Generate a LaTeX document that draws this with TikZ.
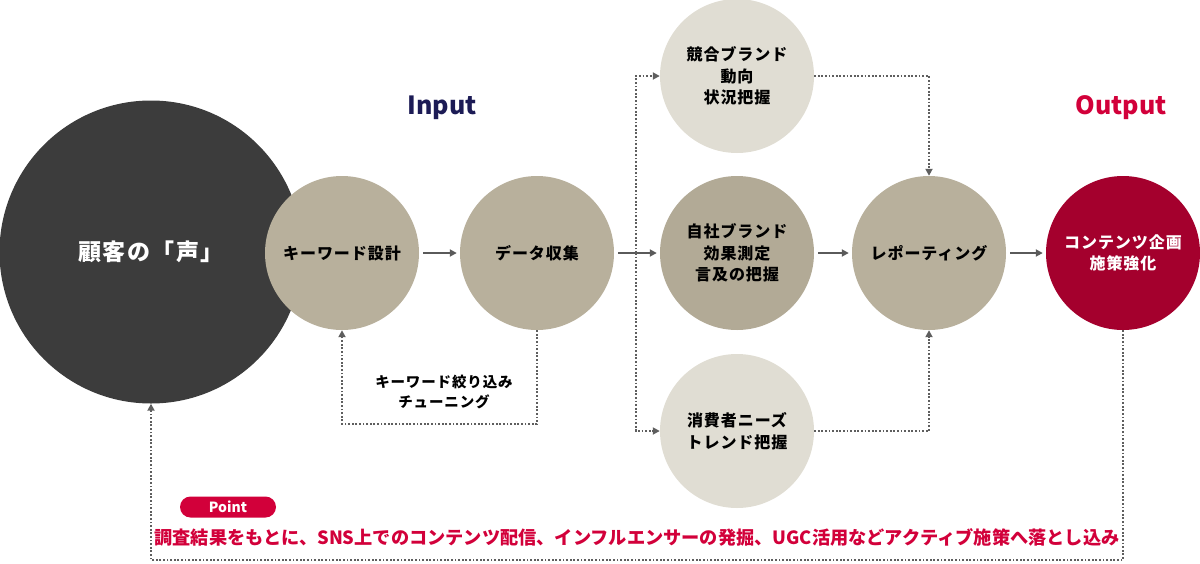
\documentclass[tikz,border=0pt]{standalone}
\usepackage{fontspec}
\setmainfont{Noto Sans CJK JP}
\newfontfamily\jp{Noto Sans CJK JP}[LetterSpace=6]
\usetikzlibrary{arrows.meta}
\definecolor{darkc}{HTML}{3C3C3C}
\definecolor{midc}{HTML}{B8B09C}
\definecolor{midd}{HTML}{B2AA96}
\definecolor{lightc}{HTML}{E0DDD3}
\definecolor{outc}{HTML}{A4002D}
\definecolor{redt}{HTML}{D2003A}
\definecolor{navyt}{HTML}{1C1B55}
\definecolor{linec}{HTML}{5A5A5A}
\definecolor{dotc}{HTML}{5E5E5E}
\begin{document}
\begin{tikzpicture}[x=1pt,y=-1pt,
  circ/.style={circle,inner sep=0pt,minimum size=154pt,align=center,
    font=\jp\bfseries\fontsize{16}{21.5}\selectfont},
  sarrow/.style={draw=linec,line width=1.8pt,-{Triangle[length=7pt,width=7pt]},shorten <=4pt,shorten >=3pt},
  darrow/.style={draw=dotc,line width=1.8pt,dash pattern=on 1.8pt off 1.8pt,-{Triangle[length=7pt,width=7pt]}}
]
\useasboundingbox (0,0) rectangle (1200,563);
% circles
\node[circle,inner sep=0pt,minimum size=303pt,fill=darkc,text=white,
  font=\jp\bfseries\fontsize{23}{28}\selectfont] (voice) at (151,252) {顧客の「声」};
\node[circ,fill=midc] (kw) at (342,253) {キーワード設計};
\node[circ,fill=midc] (data) at (537,253) {データ収集};
\node[circ,fill=lightc] (kyogo) at (737,76) {競合ブランド\\動向\\状況把握};
\node[circ,fill=midd] (jisha) at (737,253) {自社ブランド\\効果測定\\言及の把握};
\node[circ,fill=lightc] (shohi) at (737,431) {消費者ニーズ\\トレンド把握};
\node[circ,fill=midc] (report) at (929,253) {レポーティング};
\node[circ,fill=outc,text=white] (out) at (1123,253) {コンテンツ企画\\施策強化};
% titles
\node[font=\bfseries\fontsize{25}{28}\selectfont,text=navyt] (inp) at (442,108) {Input};
\node[font=\bfseries\fontsize{25}{28}\selectfont,text=redt] (outp) at (1121,108) {Output};
% solid arrows
\draw[sarrow] (kw) -- (data);
\draw[sarrow] (data) -- (jisha);
\draw[sarrow] (jisha) -- (report);
\draw[sarrow] (report) -- (out);
% dotted branches
\coordinate (split) at (636,253);
\draw[darrow] (split) |- (kyogo.west);
\draw[darrow] (split) |- (shohi.west);
\draw[darrow] (kyogo.east) -| (report.north);
\draw[darrow] (shohi.east) -| (report.south);
% feedback loop
\coordinate (fb) at (540,424);
\draw[darrow] (data.south) -- (data.south |- fb) -| (kw.south);
\node[font=\jp\bfseries\fontsize{14.5}{19.5}\selectfont,align=center] (lbl) at (444,392) {キーワード絞り込み\\チューニング};
% bottom loop
\coordinate (bot) at (1123,560);
\draw[darrow] (out.south) -- (bot) -| (voice.south);
\node[fill=redt,text=white,rounded corners=10.5pt,minimum width=96pt,minimum height=21pt,inner sep=0pt,
  font=\bfseries\fontsize{14}{16}\selectfont] (pt) at (228,507) {Point};
\node[text=redt,font=\bfseries\fontsize{18.2}{20}\selectfont,inner sep=0pt] (msg) at (637,537) {調査結果をもとに、SNS上でのコンテンツ配信、インフルエンサーの発掘、UGC活用などアクティブ施策へ落とし込み};
\end{tikzpicture}
\end{document}
